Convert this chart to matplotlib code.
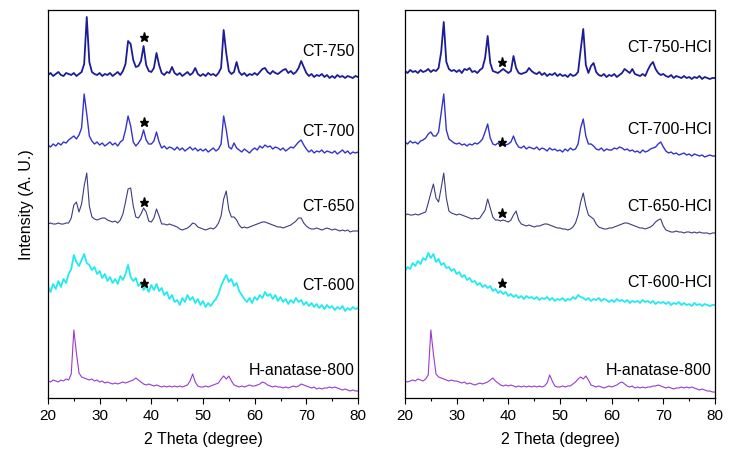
import numpy as np
import matplotlib
matplotlib.use('Agg')
import matplotlib.pyplot as plt

plt.rcParams['font.family'] = ['Liberation Sans', 'DejaVu Sans']

# shared 2-theta grid, 0.5 degree step
theta = np.arange(20, 80.5, 0.5)

# ---- left panel (offset intensities, arbitrary units) ----
ct750 = [323, 325, 322, 324, 326, 323, 322, 325, 324, 323,
         325, 322, 324, 326, 334, 381, 336, 326, 324, 323,
         325, 322, 324, 323, 325, 322, 324, 326, 323, 327,
         334, 357, 354, 338, 331, 332, 337, 352, 333, 327,
         326, 330, 345, 333, 325, 323, 326, 325, 331, 325,
         323, 325, 322, 324, 326, 323, 325, 330, 324, 322,
         324, 322, 325, 323, 324, 322, 325, 330, 368, 345,
         327, 324, 326, 336, 326, 323, 325, 322, 324, 323,
         325, 323, 326, 329, 330, 326, 324, 327, 325, 324,
         326, 328, 329, 325, 327, 324, 326, 330, 337, 331,
         325, 322, 324, 321, 323, 322, 324, 321, 323, 320,
         322, 320, 323, 321, 322, 320, 322, 321, 320, 322,
         321]
ct700 = [253, 251, 254, 252, 255, 253, 256, 255, 258, 260,
         262, 259, 263, 270, 304, 284, 262, 257, 254, 256,
         253, 255, 252, 254, 256, 253, 255, 252, 256, 258,
         268, 282, 272, 256, 252, 255, 259, 268, 258, 254,
         254, 257, 266, 256, 250, 252, 249, 251, 250, 248,
         251, 248, 250, 247, 249, 251, 248, 250, 247, 249,
         247, 249, 246, 248, 250, 247, 249, 254, 282, 268,
         251, 249, 255, 250, 248, 246, 249, 247, 245, 248,
         250, 248, 252, 250, 253, 251, 252, 249, 251, 250,
         248, 250, 247, 249, 251, 250, 253, 256, 258, 253,
         249, 246, 248, 245, 247, 246, 248, 245, 247, 246,
         245, 247, 244, 246, 248, 245, 247, 244, 246, 245,
         246]
ct650 = [174, 175, 174, 174, 175, 174, 174, 175, 175, 180,
         193, 196, 186, 194, 212, 225, 192, 181, 179, 178,
         179, 180, 180, 178, 177, 176, 177, 175, 178, 184,
         196, 209, 210, 192, 181, 180, 184, 190, 186, 177,
         176, 180, 189, 182, 174, 174, 173, 174, 173, 172,
         171, 169, 168, 169, 170, 172, 175, 174, 171, 170,
         169, 168, 169, 170, 169, 171, 175, 182, 199, 207,
         188, 181, 181, 178, 173, 170, 171, 170, 171, 172,
         173, 174, 175, 176, 176, 175, 174, 173, 172, 171,
         171, 170, 171, 172, 173, 175, 177, 180, 180, 175,
         172, 170, 169, 169, 170, 169, 168, 169, 170, 169,
         168, 169, 168, 167, 168, 167, 168, 166, 167, 167,
         167]
ct600 = [112, 106, 114, 109, 117, 111, 119, 115, 124, 129,
         143, 136, 132, 138, 144, 135, 133, 128, 131, 124,
         127, 120, 124, 117, 121, 115, 119, 114, 122, 118,
         124, 133, 121, 117, 120, 112, 115, 108, 112, 106,
         113, 108, 114, 107, 110, 103, 106, 99, 103, 96,
         98, 93, 100, 96, 103, 98, 101, 95, 99, 93,
         97, 91, 95, 92, 96, 99, 104, 112, 118, 123,
         116, 119, 112, 115, 107, 103, 99, 96, 100, 95,
         101, 98, 103, 100, 106, 102, 104, 99, 103, 97,
         101, 96, 99, 94, 98, 95, 100, 96, 98, 93,
         96, 92, 95, 91, 94, 90, 93, 89, 93, 90,
         92, 88, 91, 89, 92, 87, 90, 88, 91, 89,
         90]
anatase_l = [17, 16, 18, 17, 16, 18, 17, 19, 18, 24,
             68, 45, 25, 21, 20, 19, 18, 19, 17, 18,
             16, 17, 15, 16, 15, 14, 15, 14, 15, 16,
             15, 16, 17, 18, 20, 18, 16, 14, 13, 14,
             13, 12, 13, 12, 11, 12, 11, 12, 11, 12,
             11, 12, 11, 12, 13, 17, 24, 16, 12, 11,
             11, 12, 11, 12, 13, 14, 15, 19, 22, 19,
             22, 17, 13, 12, 11, 12, 11, 12, 13, 12,
             12, 13, 14, 16, 15, 13, 12, 11, 12, 11,
             11, 10, 11, 10, 11, 12, 11, 12, 14, 13,
             12, 11, 10, 11, 9, 10, 9, 10, 10, 11,
             10, 11, 10, 9, 8, 9, 8, 7, 8, 7,
             7]

# ---- right panel (HCl treated) ----
ct750_hcl = [327, 325, 328, 326, 327, 325, 328, 326, 327, 329,
             326, 328, 327, 330, 346, 376, 336, 329, 327, 328,
             326, 328, 325, 329, 328, 330, 326, 327, 325, 328,
             330, 340, 362, 335, 327, 326, 325, 327, 329, 327,
             325, 327, 342, 330, 325, 324, 325, 326, 330, 327,
             325, 324, 326, 323, 325, 322, 324, 323, 325, 322,
             324, 322, 323, 321, 324, 322, 323, 326, 348, 369,
             333, 325, 332, 335, 326, 323, 322, 324, 321, 323,
             322, 324, 321, 323, 325, 329, 327, 325, 329, 324,
             323, 322, 324, 322, 328, 333, 336, 329, 325, 323,
             324, 322, 321, 323, 320, 322, 321, 320, 322, 320,
             321, 319, 321, 320, 322, 319, 321, 320, 319, 320,
             320]
ct700_hcl = [256, 254, 257, 255, 256, 254, 257, 258, 260, 264,
             266, 262, 262, 266, 285, 304, 268, 259, 257, 255,
             254, 255, 253, 254, 252, 254, 253, 255, 254, 256,
             259, 266, 274, 260, 254, 253, 255, 252, 254, 253,
             254, 256, 262, 255, 251, 250, 252, 249, 251, 250,
             249, 251, 248, 250, 249, 247, 250, 248, 249, 247,
             248, 246, 249, 247, 250, 248, 249, 254, 270, 279,
             262, 254, 254, 252, 249, 248, 250, 247, 249, 248,
             248, 250, 249, 251, 250, 248, 249, 247, 248, 246,
             247, 245, 248, 246, 247, 249, 250, 251, 254, 256,
             251, 247, 245, 246, 244, 245, 243, 244, 245, 243,
             244, 242, 244, 243, 242, 243, 241, 242, 243, 242,
             242]
ct650_hcl = [183, 184, 183, 183, 184, 183, 184, 185, 186, 195,
             205, 214, 200, 196, 210, 225, 200, 187, 185, 184,
             183, 184, 183, 182, 181, 180, 179, 180, 179, 180,
             184, 188, 199, 190, 181, 178, 178, 177, 178, 177,
             176, 178, 183, 187, 178, 174, 173, 172, 173, 172,
             171, 172, 172, 173, 174, 174, 173, 172, 171, 170,
             170, 169, 169, 168, 169, 171, 175, 183, 196, 205,
             192, 183, 181, 179, 174, 171, 170, 169, 169, 170,
             170, 171, 172, 173, 174, 175, 175, 174, 173, 172,
             171, 170, 170, 169, 170, 171, 173, 176, 178, 179,
             172, 168, 167, 166, 166, 167, 166, 166, 165, 166,
             166, 165, 166, 165, 166, 165, 165, 165, 164, 165,
             165]
ct600_hcl = [127, 131, 129, 135, 132, 137, 134, 140, 138, 145,
             140, 144, 136, 139, 133, 135, 130, 131, 127, 129,
             124, 126, 121, 123, 118, 120, 116, 117, 113, 115,
             111, 113, 110, 112, 107, 109, 105, 107, 104, 106,
             102, 104, 101, 103, 100, 102, 99, 102, 100, 101,
             99, 101, 98, 100, 99, 101, 98, 100, 97, 99,
             98, 100, 97, 99, 98, 101, 99, 103, 101, 100,
             98, 100, 97, 99, 98, 100, 97, 99, 98, 96,
             98, 96, 99, 97, 98, 96, 98, 95, 97, 96,
             97, 95, 98, 96, 97, 95, 97, 94, 96, 95,
             96, 94, 96, 93, 95, 94, 96, 93, 95, 93,
             94, 92, 95, 93, 94, 92, 94, 93, 92, 93,
             93]
anatase_r = [17, 16, 17, 18, 17, 19, 18, 17, 19, 23,
             68, 44, 24, 21, 20, 19, 18, 17, 18, 17,
             17, 16, 15, 16, 14, 15, 14, 13, 14, 15,
             14, 15, 16, 18, 20, 17, 15, 13, 12, 13,
             12, 13, 12, 11, 12, 11, 12, 11, 12, 11,
             12, 11, 12, 11, 12, 15, 23, 17, 12, 11,
             11, 12, 11, 12, 12, 14, 16, 19, 21, 19,
             22, 18, 13, 12, 11, 12, 11, 10, 11, 12,
             11, 12, 13, 15, 16, 14, 12, 11, 12, 10,
             11, 10, 11, 10, 11, 11, 12, 12, 13, 12,
             11, 10, 11, 10, 9, 10, 10, 11, 10, 11,
             10, 11, 10, 9, 8, 9, 8, 7, 7, 6,
             6]

colors = ['#1c1c96', '#3434cc', '#3c3c80', '#22eaf0', '#9a3ad0']
lw = [1.3, 1.0, 0.8, 1.3, 0.8]

left_series = [ct750, ct700, ct650, ct600, anatase_l]
left_names = ['CT-750', 'CT-700', 'CT-650', 'CT-600', 'H-anatase-800']
left_label_y = [347, 268, 192, 113, 28]
left_star = [361, 276, 196, 115]

right_series = [ct750_hcl, ct700_hcl, ct650_hcl, ct600_hcl, anatase_r]
right_names = ['CT-750-HCl', 'CT-700-HCl', 'CT-650-HCl', 'CT-600-HCl', 'H-anatase-800']
right_label_y = [351, 270, 192, 116, 28]
right_star = [336, 256, 185, 115]

fig = plt.figure(figsize=(7.35, 4.6), dpi=100)
ax1 = fig.add_axes([48 / 735, 61 / 460, 310 / 735, 388 / 460])
ax2 = fig.add_axes([405 / 735, 61 / 460, 310 / 735, 388 / 460])

for ax, series, names, ly, sy, sx in [
        (ax1, left_series, left_names, left_label_y, left_star, 38.65),
        (ax2, right_series, right_names, right_label_y, right_star, 38.75)]:
    for s, c, w in zip(series, colors, lw):
        ax.plot(theta, s, color=c, lw=w)
    for n, y in zip(names, ly):
        ax.text(79.3, y, n, ha='right', va='center', fontsize=11.5)
    ax.plot([sx] * len(sy), sy, ls='none', marker='*', ms=6.5, color='black')
    ax.set_xlim(20, 80)
    ax.set_ylim(0, 388)
    ax.set_xticks(np.arange(20, 81, 10))
    ax.set_xticks(np.arange(25, 80, 10), minor=True)
    ax.set_yticks([])
    ax.tick_params(axis='x', direction='out', length=4, width=0.8, labelsize=11)
    ax.tick_params(axis='x', which='minor', direction='out', length=2.5, width=0.8)
    for sp in ax.spines.values():
        sp.set_linewidth(0.9)
    ax.set_xlabel('2 Theta (degree)', fontsize=11.5, labelpad=6)

ax1.set_ylabel('Intensity (A. U.)', fontsize=11.5, labelpad=10)

fig.savefig('out.png', dpi=100)
